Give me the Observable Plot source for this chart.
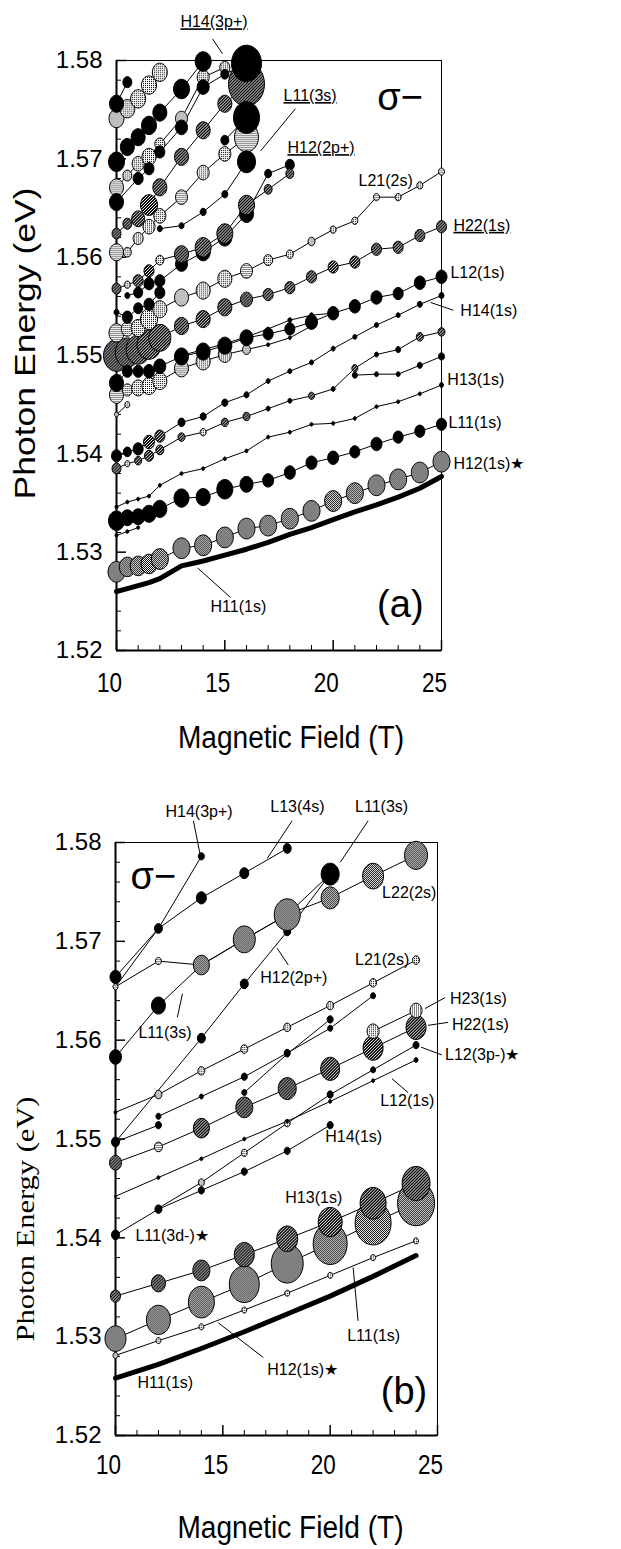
<!DOCTYPE html>
<html><head><meta charset="utf-8">
<script src="https://cdn.jsdelivr.net/npm/d3@7"></script>
<script src="https://cdn.jsdelivr.net/npm/@observablehq/plot@0.6"></script>
<style>
body{margin:0;background:#fff;}
#chart{width:621px;}
#chart svg{display:block;}
</style></head><body>
<svg width="0" height="0" style="position:absolute">
<defs>
<pattern id="ptL" patternUnits="userSpaceOnUse" width="2" height="2"><rect width="2" height="2" fill="#fff"/><rect width="1" height="1" fill="#000"/></pattern>
<pattern id="ptM" patternUnits="userSpaceOnUse" width="2" height="2"><rect width="2" height="2" fill="#fff"/><rect width="1" height="1" fill="#000"/><rect x="1" y="1" width="1" height="1" fill="#000"/></pattern>
<pattern id="ptH" patternUnits="userSpaceOnUse" width="3" height="3"><rect width="3" height="3" fill="#000"/><rect width="1" height="1" fill="#fff"/><rect x="1" y="2" width="1" height="1" fill="#fff"/><rect x="2" y="1" width="1" height="1" fill="#fff"/></pattern>
</defs></svg>
<div id="chart"></div>
<script>
// ---------- tick values ----------
const xMajor = [10, 15, 20, 25];
const xMinor = [11, 12, 13, 14, 16, 17, 18, 19, 21, 22, 23, 24];
const yMajor = [1.52, 1.53, 1.54, 1.55, 1.56, 1.57, 1.58];
const yMinor = [1.522,1.524,1.526,1.528,1.532,1.534,1.536,1.538,1.542,1.544,1.546,1.548,1.552,1.554,1.556,1.558,1.562,1.564,1.566,1.568,1.572,1.574,1.576,1.578];

// ---------- panel (a) data: [field T, energy eV, peak strength, peak type] ----------
const aH11 = [[10,1.5260],[10.5,1.5263],[11,1.5266],[11.5,1.5269],[12,1.5273],[13,1.5286],[13.6,1.5289],[14,1.5291],[15,1.5297],[16,1.5303],[17,1.5310],[18,1.5318],[19,1.5325],[20,1.5333],[21,1.5341],[22,1.5348],[23,1.5356],[24,1.5365],[25,1.5377]];
const aH12s = [[10,1.5280,8.5,"m"],[10.5,1.5285,8,"m"],[11,1.5286,8,"m"],[11.5,1.5288,8,"m"],[12,1.5293,8.5,"m"],[13,1.5304,8.5,"m"],[14,1.5307,8.5,"m"],[15,1.5315,8.5,"m"],[16,1.5324,8.5,"m"],[17,1.5327,8.5,"m"],[18,1.5334,8.5,"m"],[19,1.5342,8.5,"m"],[20,1.5352,8.5,"m"],[21,1.5360,8.5,"m"],[22,1.5368,8.5,"m"],[23,1.5374,8.5,"m"],[24,1.5381,8.5,"m"],[25,1.5392,8.5,"m"]];
const aL11s = [[10,1.5332,8,"b"],[10.5,1.5335,6.5,"b"],[11,1.5336,6.5,"b"],[11.5,1.5339,7,"b"],[12,1.5344,7,"b"],[13,1.5355,7.5,"b"],[14,1.5356,7,"b"],[15,1.5364,8,"b"],[16,1.5369,6.5,"b"],[17,1.5373,5.5,"b"],[18,1.5381,5.5,"b"],[19,1.5391,5.5,"b"],[20,1.5396,5.5,"b"],[21,1.5402,5,"b"],[22,1.5410,5.5,"b"],[23,1.5417,5,"b"],[24,1.5423,5,"b"],[25,1.5430,5,"b"]];
const aL11low = [[10,1.5317,1.5,"b"],[10.5,1.5321,1.5,"b"],[11,1.5325,1.5,"b"]];
const aH13 = [[10,1.5346,1.5,"b"],[10.5,1.5351,1.5,"b"],[11,1.5354,1.5,"b"],[11.5,1.5357,1.5,"b"],[12,1.5368,1.5,"b"],[13,1.5380,1.5,"b"],[14,1.5385,1.5,"b"],[15,1.5395,1.5,"b"],[16,1.5403,1.5,"b"],[17,1.5417,1.5,"b"],[18,1.5422,1.5,"b"],[19,1.5430,1.5,"b"],[20,1.5431,1.5,"b"],[21,1.5436,1.5,"b"],[22,1.5448,1.5,"b"],[23,1.5453,1.5,"b"],[24,1.5461,1.5,"b"],[25,1.5470,2,"b"]];
const aMid = [[10,1.5385,4.5,"h"],[10.5,1.5390,2.5,"l"],[11,1.5393,3.5,"h"],[11.5,1.5398,4.5,"h"],[12,1.5404,4,"h"],[13,1.5417,3.5,"h"],[14,1.5422,3,"l"],[15,1.5432,3.5,"h"],[16,1.5438,3.5,"h"],[17,1.5446,2,"b"],[18,1.5454,2,"b"],[19,1.5459,3,"h"],[20,1.5466,2,"b"],[21,1.5487,3,"h"],[22,1.5501,2,"b"],[23,1.5506,2.5,"b"],[24,1.5519,3.5,"h"],[25,1.5524,3.5,"h"]];
const aBranch = [[21,1.5480,2.5,"b"],[22,1.5481,2,"b"],[23,1.5481,2,"b"],[24,1.5490,2.5,"b"],[25,1.5499,3,"b"]];
const aH14s = [[10,1.5398,5,"b"],[10.5,1.5402,4,"b"],[11,1.5405,5,"b"],[11.5,1.5412,5.5,"h"],[12,1.5418,5,"h"],[13,1.5432,3.5,"b"],[14,1.5438,3,"b"],[15,1.5452,3,"b"],[16,1.5460,2.5,"b"],[17,1.5474,2,"b"],[18,1.5484,2,"b"],[19,1.5493,2,"b"],[20,1.5507,2,"b"],[21,1.5519,2,"b"],[22,1.5531,2,"b"],[23,1.5541,2,"b"],[24,1.5552,2.5,"b"],[25,1.5561,2.5,"b"]];
const aTiny = [[10,1.5440,2,"l"],[10.5,1.5450,2.5,"l"]];
const aBlight = [[10,1.5460,7,"l"],[10.5,1.5465,5,"l"],[11,1.5467,6.5,"l"],[11.5,1.5469,7,"l"],[12,1.5474,7,"l"],[13,1.5487,7,"l"],[14,1.5494,7,"l"],[15,1.5501,6.5,"l"],[16,1.5506,4,"l"],[17,1.5511,1.5,"b"],[18,1.5518,1.5,"b"],[19,1.5530,0]];
const aBthin = [[13,1.5500,0],[14,1.5506,0],[15,1.5512,1.5,"b"],[16,1.5519,1.5,"b"],[17,1.5527,1.5,"b"],[18,1.5536,2,"b"],[19,1.5541,2,"b"],[20,1.5543,0]];
const aH22 = [[10,1.5500,13,"h"],[10.5,1.5503,12,"h"],[11,1.5506,12,"h"],[11.5,1.5511,12,"h"],[12,1.5518,11,"h"],[13,1.5530,7,"h"],[14,1.5537,7,"h"],[15,1.5549,7,"h"],[16,1.5557,6,"h"],[17,1.5562,5,"h"],[18,1.5569,5,"h"],[19,1.5580,5,"h"],[20,1.5590,5,"h"],[21,1.5595,5,"h"],[22,1.5608,5,"h"],[23,1.5610,5,"h"],[24,1.5622,5,"h"],[25,1.5631,5,"h"]];
const aL12s = [[10,1.5472,7,"b"],[10.5,1.5484,5,"b"],[11,1.5484,5,"b"],[11.5,1.5484,5.5,"b"],[12,1.5489,6,"b"],[13,1.5499,7,"b"],[14,1.5504,7,"b"],[15,1.5510,7,"b"],[16,1.5518,6.5,"b"],[17,1.5522,5,"b"],[18,1.5527,5,"b"],[19,1.5534,6,"b"],[20,1.5543,5.5,"b"],[21,1.5550,5.5,"b"],[22,1.5559,5.5,"b"],[23,1.5563,5,"b"],[24,1.5574,5.5,"b"],[25,1.5580,5.5,"b"]];
const aL21 = [[10,1.5523,7.5,"l"],[10.5,1.5527,6,"l"],[11,1.5528,7,"l"],[11.5,1.5537,8.5,"l"],[12,1.5547,7,"l"],[13,1.5559,7,"l"],[14,1.5566,7,"l"],[15,1.5578,7,"l"],[16,1.5586,6,"l"],[17,1.5597,4.5,"l"],[18,1.5603,3.5,"l"],[19,1.5616,3.5,"l"],[20,1.5628,3,"l"],[21,1.5637,3,"l"],[22,1.5661,3,"l"],[23,1.5661,3,"l"],[24,1.5673,3,"l"],[25,1.5687,3,"l"]];
const aE2 = [[10,1.5544,2.5,"b"],[10.5,1.5539,5,"b"],[11,1.5548,4.5,"b"],[11.5,1.5552,5,"b"],[12,1.5564,5,"b"]];
const aH12pB = [[10.5,1.5561,2.5,"b"],[11,1.5564,4.5,"b"],[11.5,1.5573,5,"b"],[12,1.5576,5,"b"],[13,1.5593,6,"b"],[14,1.5605,7,"b"],[15,1.5620,7,"b"],[16,1.5644,7,"b"],[17,1.5685,3.5,"b"],[18,1.5694,4.5,"b"]];
const aH12pH = [[10,1.5568,4.5,"h"],[10.5,1.5572,3,"l"],[11,1.5576,5,"h"],[11.5,1.5586,5,"h"],[12,1.5597,4,"l"],[13,1.5603,7,"h"],[14,1.5610,8,"h"],[15,1.5624,8,"h"],[16,1.5653,8,"h"],[17,1.5669,4,"h"],[18,1.5685,4,"h"]];
const aC7 = [[10,1.5605,7,"l"],[10.5,1.5605,4,"l"],[11,1.5619,5,"l"],[11.5,1.5631,6,"l"],[12,1.5642,6,"l"],[13,1.5661,6,"l"],[14,1.5686,6,"l"],[15,1.5705,6,"l"],[16,1.5722,12,"l"]];
const aC8 = [[12,1.5629,2.5,"b"],[13,1.5632,2.5,"b"],[14,1.5646,3,"b"],[15,1.5664,3,"b"],[16,1.5697,9,"b"]];
const aC6 = [[10,1.5624,4.5,"h"],[10.5,1.5634,4.5,"h"],[11,1.5639,6.5,"h"],[11.5,1.5653,8.5,"h"],[12,1.5671,7,"h"],[13,1.5702,7,"h"],[14,1.5729,7,"h"],[15,1.5756,7,"h"],[16,1.5776,18,"h"]];
const aC9 = [[15,1.5719,4,"b"],[16,1.5742,13,"b"]];
const aC4 = [[10,1.5671,7,"l"],[10.5,1.5683,4.5,"l"],[11,1.5695,6,"l"],[11.5,1.5702,7,"l"],[12,1.5715,5,"l"],[13,1.5741,6,"l"],[14,1.5783,6,"l"],[15,1.5793,5,"l"],[16,1.5776,0]];
const aC5 = [[10,1.5656,7,"b"],[11,1.5680,5,"b"],[11.5,1.5690,5,"b"],[12,1.5707,5,"b"],[13,1.5732,6,"b"],[14,1.5773,6,"b"],[15,1.5786,4,"b"],[16,1.5797,15,"b"]];
const aC1 = [[10,1.5697,8,"b"],[10.5,1.5712,7,"b"],[11,1.5722,7,"b"],[11.5,1.5734,7.5,"b"],[12,1.5747,7,"b"],[13,1.5771,8,"b"],[14,1.5799,8,"b"]];
const aC2 = [[10,1.5741,7.5,"l"],[10.5,1.5751,7.5,"l"],[11,1.5761,7.5,"l"],[11.5,1.5775,7.5,"l"],[12,1.5788,7.5,"l"]];
const aC3 = [[10,1.5756,7,"b"],[10.5,1.5778,4.5,"b"]];

const aLabels = [
  {t:"H14(3p+)", x:12.95, y:1.5839}, {t:"L11(3s)", x:17.71, y:1.5764}, {t:"H12(2p+)", x:17.89, y:1.5711},
  {t:"L21(2s)", x:21.17, y:1.5678}, {t:"H22(1s)", x:25.55, y:1.5632}, {t:"L12(1s)", x:25.41, y:1.5584},
  {t:"H14(1s)", x:25.87, y:1.5545}, {t:"H13(1s)", x:25.27, y:1.5475}, {t:"L11(1s)", x:25.32, y:1.5431},
  {t:"H12(1s)★", x:25.55, y:1.5390}, {t:"H11(1s)", x:14.34, y:1.5244}
];
const aUnderlined = ["H14(3p+)", "L11(3s)", "H12(2p+)", "H22(1s)"];
const aLeaders = [[14.43,1.5822,14.89,1.5807],[18.26,1.5751,16.65,1.5708],[24.49,1.5554,25.55,1.5546],[13.74,1.5284,15.26,1.5254]];

// ---------- panel (b) data ----------
const bH11 = [[10,1.5258],[12,1.5272],[14,1.5288],[16,1.5305],[18,1.5323],[20,1.5341],[22,1.5361],[24,1.5382]];
const bH12s = [[10,1.5281,2.5,"l"],[12,1.5296,2.5,"l"],[14,1.5310,2.5,"l"],[16,1.5327,2.5,"l"],[18,1.5344,2.5,"l"],[20,1.5362,2.5,"l"],[22,1.5380,2.5,"l"],[24,1.5397,2.5,"l"]];
const bL11s = [[10,1.5298,10.5,"m"],[12,1.5317,12,"m"],[14,1.5335,13,"m"],[16,1.5353,15,"m"],[18,1.5374,16,"m"],[20,1.5394,17,"m"],[22,1.5415,18,"m"],[24,1.5435,18.5,"m"]];
const bH13 = [[10,1.5341,5,"h"],[12,1.5354,7,"h"],[14,1.5367,8.5,"h"],[16,1.5383,10,"h"],[18,1.5399,10.5,"h"],[20,1.5416,12,"h"],[22,1.5435,13,"h"],[24,1.5455,14,"h"]];
const bH14s = [[10,1.5403,4,"b"],[12,1.5429,3.5,"b"],[14,1.5448,3,"b"],[16,1.5467,3,"b"],[18,1.5488,3,"b"],[20,1.5514,3,"b"]];
const bL12p = [[12,1.5430,0],[14,1.5456,3,"l"],[16,1.5486,3,"l"],[18,1.5516,3,"l"],[20,1.5545,3,"b"],[22,1.5570,2.5,"b"],[24,1.5595,3,"b"]];
const bL12s = [[10,1.5442,1,"b"],[12,1.5461,1.5,"b"],[14,1.5480,1.5,"b"],[16,1.5500,1.5,"b"],[18,1.5518,1.5,"b"],[20,1.5538,1.5,"b"],[22,1.5559,1.5,"b"],[24,1.5580,2,"b"]];
const bH22 = [[10,1.5476,6,"h"],[12,1.5492,4,"l"],[14,1.5511,8,"h"],[16,1.5532,8.5,"h"],[18,1.5551,9,"h"],[20,1.5571,9.5,"h"],[22,1.5592,10,"h"],[24,1.5613,10,"h"]];
const bH23 = [[22,1.5609,6,"l"],[24,1.5630,6,"l"]];
const bShort = [[10,1.5497,0],[12,1.5514,3,"b"]];
const bLineA = [[12,1.5523,2.5,"b"],[14,1.5543,2,"b"],[16,1.5563,3,"b"],[18,1.5587,3,"b"],[20,1.5612,2.5,"b"],[22,1.5645,2.5,"b"]];
const bLineB = [[16,1.5547,2.5,"b"],[18,1.5586,2.5,"b"],[20,1.5621,3,"b"]];
const bL21 = [[10,1.5527,1.5,"b"],[12,1.5545,3.5,"l"],[14,1.5569,3.5,"l"],[16,1.5591,3.5,"l"],[18,1.5613,3.5,"l"],[20,1.5635,3.5,"l"],[22,1.5658,3.5,"l"],[24,1.5681,3.5,"l"]];
const bH12p = [[10,1.5497,4,"b"],[14,1.5602,4,"b"],[16,1.5657,4,"b"],[18,1.5710,3.5,"b"],[20,1.5768,0]];
const bL22 = [[10,1.5654,2.5,"l"],[12,1.5680,3,"l"],[14,1.5676,8,"m"],[16,1.5702,11,"m"],[18,1.5727,13,"m"],[20,1.5744,9,"m"],[22,1.5766,10.5,"m"],[24,1.5787,11.5,"m"]];
const bL11_3s = [[10,1.5583,6,"b"],[12,1.5635,7,"b"],[14,1.5676,0],[16,1.5702,0],[18,1.5727,0],[20,1.5768,9,"b"]];
const bL13 = [[10,1.5664,5.5,"b"],[12,1.5713,4,"b"],[14,1.5744,5,"b"],[16,1.5769,4.5,"b"],[18,1.5794,4,"b"]];
const bH14p = [[10,1.5654,0],[12,1.5713,0],[14,1.5786,3,"b"]];

const bLabels = [
  {t:"H14(3p+)", x:12.33, y:1.5831}, {t:"L13(4s)", x:17.21, y:1.5836}, {t:"L11(3s)", x:21.16, y:1.5836},
  {t:"L22(2s)", x:22.42, y:1.5749}, {t:"H12(2p+)", x:16.74, y:1.5663}, {t:"L21(2s)", x:21.16, y:1.5681},
  {t:"L11(3s)", x:11.07, y:1.5607}, {t:"H23(1s)", x:25.58, y:1.5642}, {t:"H22(1s)", x:25.67, y:1.5615},
  {t:"L12(3p-)★", x:25.35, y:1.5585}, {t:"L12(1s)", x:22.33, y:1.5539}, {t:"H14(1s)", x:19.77, y:1.5502},
  {t:"L11(3d-)★", x:10.93, y:1.5402}, {t:"H13(1s)", x:17.91, y:1.5440}, {t:"L11(1s)", x:20.79, y:1.5301},
  {t:"H12(1s)★", x:17.07, y:1.5266}, {t:"H11(1s)", x:11.02, y:1.5253}
];
const bLeaders = [[13.63,1.5822,13.95,1.5787],[18.23,1.5822,17.07,1.5784],[21.77,1.5822,20.47,1.5780],[18.05,1.5676,17.53,1.5693],
  [12.88,1.5623,13.12,1.5647],[24.42,1.5632,25.35,1.5643],[24.56,1.5615,25.49,1.5618],[24.23,1.5593,25.21,1.5585],
  [22.88,1.5561,23.63,1.5547],[21.30,1.5316,21.07,1.5370],[16.88,1.5279,14.79,1.5314]];

// ---------- rendering ----------
const KINDS = ["b", "l", "m", "h"];
const FILLS = ["#000", "url(#ptL)", "url(#ptM)", "url(#ptH)"];
const SANS = "'Liberation Sans', Arial, Helvetica, sans-serif";

const ellipse = {
  draw(ctx, size) {
    const r = Math.sqrt(size / Math.PI), rx = r, ry = r * 1.22, k = 0.5523;
    ctx.moveTo(rx, 0);
    ctx.bezierCurveTo(rx, ry * k, rx * k, ry, 0, ry);
    ctx.bezierCurveTo(-rx * k, ry, -rx, ry * k, -rx, 0);
    ctx.bezierCurveTo(-rx, -ry * k, -rx * k, -ry, 0, -ry);
    ctx.bezierCurveTo(rx * k, -ry, rx, -ry * k, rx, 0);
    ctx.closePath();
  }
};

function panel(cfg) {
  const rows = [];
  cfg.series.forEach((arr, si) => arr.forEach(d => rows.push({series: si, x: d[0], y: d[1], s: d[2] || 0, k: d[3] || "b"})));
  const PW = 621 - cfg.ml - cfg.mr, PH = cfg.h - cfg.mt - cfg.mb;
  const svg = Plot.plot({
    width: 621, height: cfg.h,
    marginTop: cfg.mt, marginBottom: cfg.mb, marginLeft: cfg.ml, marginRight: cfg.mr,
    x: {domain: [10, 25], axis: null},
    y: {domain: [1.52, 1.58], axis: null},
    r: {type: "linear", domain: [0, 20], range: [0, 20]},
    color: {type: "ordinal", domain: KINDS, range: FILLS},
    style: {fontFamily: SANS, background: "#fff", color: "#000", overflow: "visible"},
    marks: [
      Plot.frame({stroke: "#000", strokeWidth: 1}),
      Plot.ruleX([10], {stroke: "#000", strokeWidth: 2}),
      Plot.ruleY([1.52], {stroke: "#000", strokeWidth: 2}),
      Plot.tickX(xMajor, {x: d => d, insetTop: PH - 10, stroke: "#000", strokeWidth: 1.5}),
      Plot.tickX(xMinor, {x: d => d, insetTop: PH - 5, stroke: "#000", strokeWidth: 1}),
      Plot.tickY(yMajor, {y: d => d, insetRight: PW - 10, stroke: "#000", strokeWidth: 1.5}),
      Plot.tickY(yMinor, {y: d => d, insetRight: PW - 5, stroke: "#000", strokeWidth: 1}),
      Plot.text(xMajor, {x: d => d, frameAnchor: "bottom", lineAnchor: "middle", dy: cfg.xlabDy, dx: -7, text: d => String(d), fontSize: 27, fill: "#000"}),
      Plot.text(yMajor, {y: d => d, frameAnchor: "left", dx: -14, textAnchor: "end", text: d => d.toFixed(2), fontSize: 24, fill: "#000"}),
      Plot.line(cfg.thick, {x: d => d[0], y: d => d[1], stroke: "#000", strokeWidth: 5, strokeLinejoin: "round"}),
      Plot.line(rows, {x: "x", y: "y", z: "series", stroke: "#000", strokeWidth: 1}),
      Plot.dot(rows.filter(d => d.s > 0), {x: "x", y: "y", r: "s", fill: "k", stroke: "#000", strokeWidth: 1, symbol: ellipse, sort: null}),
      Plot.link(cfg.leaders, {x1: d => d[0], y1: d => d[1], x2: d => d[2], y2: d => d[3], stroke: "#000", strokeWidth: 1}),
      Plot.text(cfg.labels, {x: "x", y: "y", text: "t", textAnchor: "start", fontSize: 16, fill: "#000"}),
      Plot.text([cfg.sigma], {x: d => d.x, y: d => d.y, text: () => "σ\u2212", textAnchor: "start", fontSize: 38, fill: "#000"}),
      Plot.text([cfg.tag], {x: d => d.x, y: d => d.y, text: d => d.t, fontSize: 38, fill: "#000"}),
      Plot.text(["Magnetic Field (T)"], {frameAnchor: "bottom", lineAnchor: "middle", textAnchor: "middle", dy: cfg.xTitleDy, dx: cfg.xTitleDx, text: d => d, fontSize: 31, fill: "#000"}),
      Plot.text(["Photon Energy (eV)"], {frameAnchor: "left", textAnchor: "middle", lineAnchor: "middle", dx: cfg.yTitleDx, dy: cfg.yTitleDy, rotate: -90, text: d => d, fontSize: cfg.yTitleSize, fontFamily: cfg.yTitleFont, fill: "#000"})
    ]
  });
  svg.querySelectorAll("text").forEach(t => {
    const s = t.textContent;
    if ((cfg.underline || []).includes(s)) t.style.textDecoration = "underline";
    if (s === "Photon Energy (eV)") { t.setAttribute("textLength", cfg.yTitleLen); t.setAttribute("lengthAdjust", "spacingAndGlyphs"); }
    if (s === "Magnetic Field (T)") { t.setAttribute("textLength", 226); t.setAttribute("lengthAdjust", "spacingAndGlyphs"); }
    if (["10", "15", "20", "25"].includes(s)) { t.setAttribute("textLength", 25); t.setAttribute("lengthAdjust", "spacingAndGlyphs"); }
  });
  return svg;
}

const chart = document.getElementById("chart");
chart.appendChild(panel({
  h: 775, mt: 60, mb: 125, ml: 116, mr: 180,
  thick: aH11,
  series: [aH12s, aL11s, aL11low, aH13, aMid, aBranch, aH14s, aTiny, aBlight, aBthin, aH22, aL12s, aL21, aE2, aH12pB, aH12pH, aC7, aC8, aC6, aC9, aC4, aC5, aC1, aC2, aC3],
  labels: aLabels, leaders: aLeaders, underline: aUnderlined,
  sigma: {x: 22.04, y: 1.5762}, tag: {t: "(a)", x: 23.1, y: 1.5246},
  xlabDy: 33, xTitleDy: 88, xTitleDx: 12,
  yTitleDx: -91, yTitleDy: -12, yTitleSize: 30, yTitleFont: SANS, yTitleLen: 312
}));
chart.appendChild(panel({
  h: 774, mt: 67, mb: 114, ml: 115, mr: 184,
  thick: bH11,
  series: [bH12s, bL11s, bH13, bH14s, bL12p, bL12s, bH22, bH23, bShort, bLineA, bLineB, bL21, bH12p, bL22, bL11_3s, bL13, bH14p],
  labels: bLabels, leaders: bLeaders, underline: [],
  sigma: {x: 10.70, y: 1.5765}, tag: {t: "(b)", x: 23.44, y: 1.5244},
  xlabDy: 30, xTitleDy: 93, xTitleDx: 14,
  yTitleDx: -90, yTitleDy: 80, yTitleSize: 26, yTitleFont: "'Liberation Serif', 'Times New Roman', serif", yTitleLen: 245
}));
</script>
</body></html>
